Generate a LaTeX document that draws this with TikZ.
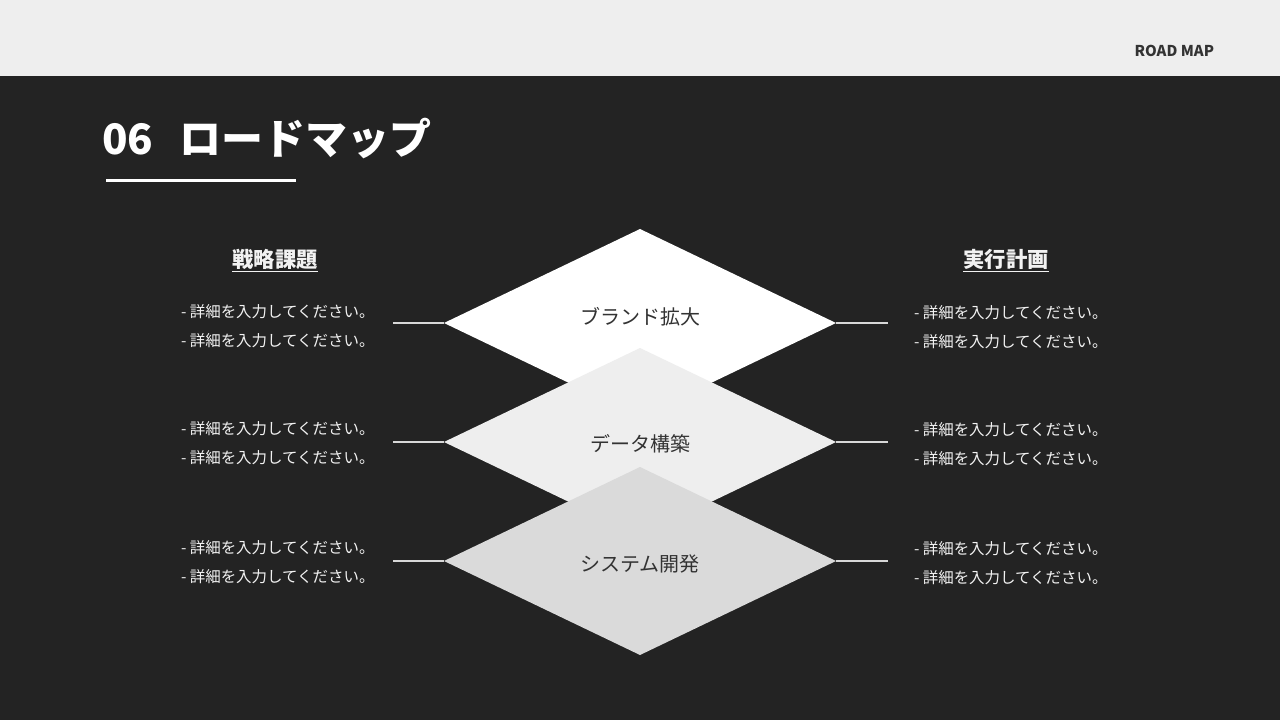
\documentclass[tikz,border=0pt]{standalone}
\usepackage{fontspec}
\setmainfont{Noto Sans CJK JP}
\newfontfamily\jpfont{Noto Sans CJK JP}
\definecolor{band}{HTML}{EEEEEE}
\definecolor{slate}{HTML}{232323}
\definecolor{ink}{HTML}{333333}
\definecolor{paper}{HTML}{F2F2F2}
\definecolor{stageA}{HTML}{FFFFFF}
\definecolor{stageB}{HTML}{EEEEEE}
\definecolor{stageC}{HTML}{DADADA}
\definecolor{wire}{HTML}{D8D8D8}
\usetikzlibrary{positioning}
\usetikzlibrary{shapes.geometric}
\tikzstyle{base}=[x=0.75pt, y=-0.75pt, inner sep=0pt, outer sep=0pt]
\tikzstyle{stage}=[diamond, minimum width=294pt, minimum height=141pt]
\tikzstyle{stagetext}=[text=ink, font=\fontsize{15}{18}\selectfont]
\tikzstyle{note}=[anchor=west, align=left, text=paper, font=\fontsize{11.6}{21.5}\selectfont]
\tikzstyle{head}=[text=paper, font=\bfseries\fontsize{16}{20}\selectfont]
\tikzstyle{link}=[wire, line width=1.1pt]

\begin{document}
\begin{tikzpicture}[base]
    \jpfont
        \fill [slate] (0,0) rectangle (1280,720);
        \fill [band] (0,0) rectangle (1280,76);
        \node [anchor=base east, text=ink, font=\bfseries\fontsize{11.2}{14}\selectfont] (tag) at (1214,57) {ROAD MAP};
        \node [anchor=base west, text=white, font=\bfseries\fontsize{31.5}{38}\selectfont] (num) at (102,155) {06};
        \node [anchor=base west, text=white, font=\bfseries\fontsize{31.5}{38}\selectfont] (title) at ([xshift=20pt]num.base east) {ロードマップ};
        \draw [white, line width=2.25pt] (106,181) -- (296,181);
        \node [head] (issues) at (275,261) {\underline{戦略課題}};
        \node [head] (plans) at (1006,261) {\underline{実行計画}};

        \node [stage, fill=stageA] (brand) at (640,323) {};
        \node [stagetext] (brandText) at ([yshift=5pt]brand.center) {ブランド拡大};
        \coordinate (brandL) at (393,323);
        \coordinate (brandR) at (888,323);
        \draw [link] (brandL) -- (brand.west);
        \draw [link] (brand.east) -- (brandR);
        \node [note] (brandIssue) at (181,326) {- 詳細を入力してください。\\- 詳細を入力してください。};
        \node [note] (brandPlan) at (914,327) {- 詳細を入力してください。\\- 詳細を入力してください。};

        \node [stage, fill=stageB] (data) at (640,442) {};
        \node [stagetext] (dataText) at ([yshift=-1.5pt]data.center) {データ構築};
        \coordinate (dataL) at (393,442);
        \coordinate (dataR) at (888,442);
        \draw [link] (dataL) -- (data.west);
        \draw [link] (data.east) -- (dataR);
        \node [note] (dataIssue) at (181,443) {- 詳細を入力してください。\\- 詳細を入力してください。};
        \node [note] (dataPlan) at (914,444) {- 詳細を入力してください。\\- 詳細を入力してください。};

        \node [stage, fill=stageC] (system) at (640,561) {};
        \node [stagetext] (systemText) at ([yshift=-2.25pt]system.center) {システム開発};
        \coordinate (systemL) at (393,561);
        \coordinate (systemR) at (888,561);
        \draw [link] (systemL) -- (system.west);
        \draw [link] (system.east) -- (systemR);
        \node [note] (systemIssue) at (181,562) {- 詳細を入力してください。\\- 詳細を入力してください。};
        \node [note] (systemPlan) at (914,563) {- 詳細を入力してください。\\- 詳細を入力してください。};
        \path [use as bounding box] (0,0) rectangle (1280,720);
    \end{tikzpicture}
\end{document}
